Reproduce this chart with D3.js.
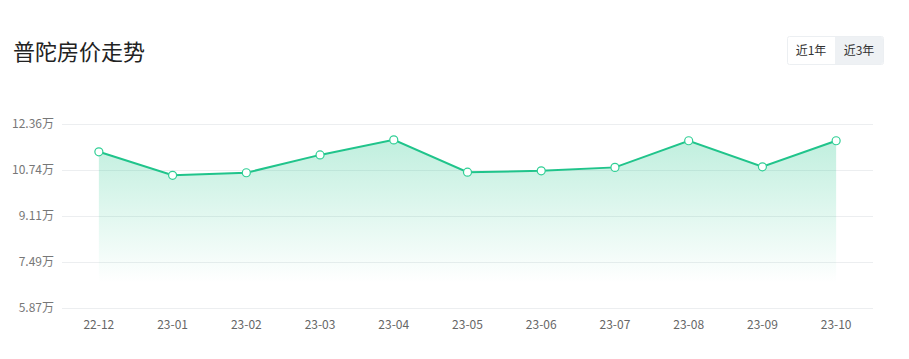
<!DOCTYPE html>
<html><head><meta charset="utf-8">
<script src="https://cdn.jsdelivr.net/npm/d3@7/dist/d3.min.js"></script>
<style>
html,body{margin:0;padding:0;background:#fff;}
svg{display:block;font-family:"Microsoft YaHei","Noto Sans CJK SC","Noto Sans",sans-serif;}
</style></head>
<body>
<svg id="chart" width="909" height="359"></svg>
<script>
const months = ["22-12","23-01","23-02","23-03","23-04","23-05","23-06","23-07","23-08","23-09","23-10"];
const prices = [11.38,10.55,10.64,11.27,11.80,10.66,10.71,10.83,11.77,10.85,11.77];
const yTicks = [5.87,7.49,9.11,10.74,12.36];
const title = "普陀房价走势";
const buttons = ["近1年","近3年"];

(function(){
const svg = d3.select("#chart");
const pl = 62, pr = 873, pt = 124, pb = 308;

const x = d3.scaleBand().domain(months).range([pl, pr]);
const y = d3.scaleLinear().domain([yTicks[0], yTicks[yTicks.length-1]]).range([pb, pt]);
const cx = d => x(d) + x.bandwidth()/2;

// title
svg.append("text").attr("x",13).attr("y",60).attr("font-size",22).attr("fill","#222").text(title);

// buttons
const bg = svg.append("g");
bg.append("rect").attr("x",787.5).attr("y",36.5).attr("width",96).attr("height",28).attr("rx",2)
  .attr("fill","#fff").attr("stroke","#eceff2");
bg.append("path").attr("d","M835,37 H881 a2,2 0 0 1 2,2 V62 a2,2 0 0 1 -2,2 H835 Z").attr("fill","#eef1f4");
buttons.forEach((b,i)=>{
  bg.append("text").attr("x",811+i*48).attr("y",55).attr("text-anchor","middle")
    .attr("font-size",12).attr("fill","#333").text(b);
});

// grid
svg.append("g").selectAll("line").data(yTicks).join("line")
  .attr("x1",pl).attr("x2",pr).attr("y1",d=>Math.round(y(d))+0.5).attr("y2",d=>Math.round(y(d))+0.5)
  .attr("stroke","#eceef0").attr("stroke-width",1);

// y axis labels
const yAxis = d3.axisLeft(y).tickValues(yTicks).tickSize(0).tickPadding(0).tickFormat(d=>d.toFixed(2)+"万");
const ya = svg.append("g").attr("transform",`translate(${pl-8},0)`).call(yAxis);
ya.select(".domain").remove();
ya.selectAll("text").attr("font-size",12).attr("fill","#777").attr("font-family",'"Microsoft YaHei","Noto Sans CJK SC",sans-serif');

// x axis labels
const xAxis = d3.axisBottom(x).tickSize(0).tickPadding(0);
const xa = svg.append("g").attr("transform",`translate(0,${pb+17})`).call(xAxis);
xa.select(".domain").remove();
xa.selectAll("text").attr("font-size",12).attr("fill","#666").attr("dy","0.32em").attr("font-family",'"Microsoft YaHei","Noto Sans CJK SC",sans-serif');

// gradient
const defs = svg.append("defs");
const grad = defs.append("linearGradient").attr("id","ag").attr("x1",0).attr("x2",0).attr("y1",0).attr("y2",1);
grad.append("stop").attr("offset","0%").attr("stop-color","#1fc68a").attr("stop-opacity",0.28);
grad.append("stop").attr("offset","85%").attr("stop-color","#1fc68a").attr("stop-opacity",0.0);

const data = months.map((m,i)=>({m, v:prices[i]}));
const area = d3.area().x(d=>cx(d.m)).y0(pb).y1(d=>y(d.v));
svg.append("path").datum(data).attr("d",area).attr("fill","url(#ag)");

const line = d3.line().x(d=>cx(d.m)).y(d=>y(d.v));
svg.append("path").datum(data).attr("d",line).attr("fill","none").attr("stroke","#20c48b").attr("stroke-width",2);

svg.append("g").selectAll("circle").data(data).join("circle")
  .attr("cx",d=>cx(d.m)).attr("cy",d=>y(d.v)).attr("r",4)
  .attr("fill","#fff").attr("stroke","#2fcf95").attr("stroke-width",1.2);
})();
</script>
</body></html>
